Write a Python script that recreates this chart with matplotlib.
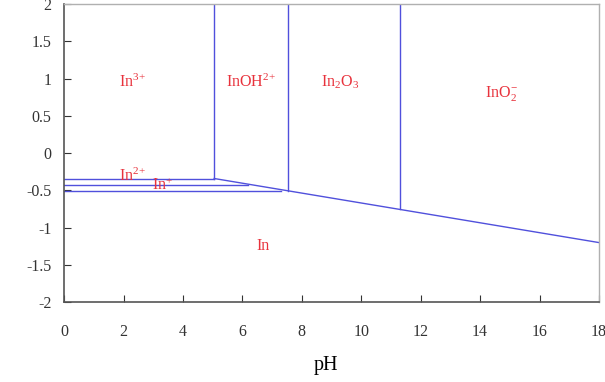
import matplotlib
matplotlib.use('Agg')
import matplotlib.pyplot as plt

plt.rcParams['font.family'] = ['Liberation Serif', 'DejaVu Serif']
plt.rcParams['mathtext.fontset'] = 'custom'
plt.rcParams['mathtext.rm'] = 'Liberation Serif'
plt.rcParams['mathtext.default'] = 'rm'
plt.rcParams['axes.unicode_minus'] = False

# boundary lines of the Pourbaix diagram (pH, E)
b_in3_in2_ph = [0, 5.05]
b_in3_in2_e = [-0.34, -0.34]
b_in2_in1_ph = [0, 6.2]
b_in2_in1_e = [-0.425, -0.425]
b_in1_in_ph = [0, 7.3]
b_in1_in_e = [-0.505, -0.505]
b_metal_ph = [5.05, 18]
b_metal_e = [-0.34, -1.2]
b_in3_inoh_ph = [5.05, 5.05]
b_in3_inoh_e = [-0.34, 2]
b_inoh_in2o3_ph = [7.55, 7.55]
b_inoh_in2o3_e = [-0.505, 2]
b_in2o3_ino2_ph = [11.3, 11.3]
b_in2o3_ino2_e = [-0.755, 2]

labels = [r'In$^{3{+}}$', r'InOH$^{2{+}}$', r'In$_2$O$_3$', r'InO$_2^{{-}}$',
          r'In$^{2{+}}$', r'In$^{{+}}$', 'In']
label_ph = [2.3, 6.3, 9.3, 14.7, 2.3, 3.3, 6.7]
label_e = [0.95, 0.95, 0.95, 0.8, -0.31, -0.44, -1.25]

xticks = [0, 2, 4, 6, 8, 10, 12, 14, 16, 18]
yticks = [-2, -1.5, -1, -0.5, 0, 0.5, 1, 1.5, 2]
ytick_labels = ['-2', '-1.5', '-1', '-0.5', '0', '0.5', '1', '1.5', '2']

fig = plt.figure(figsize=(6.05, 3.82), dpi=100)
ax = fig.add_axes([0.106, 0.209, 0.884, 0.78])

line_c = '#5050dc'
for xs, ys in [(b_in3_in2_ph, b_in3_in2_e), (b_in2_in1_ph, b_in2_in1_e),
               (b_in1_in_ph, b_in1_in_e), (b_metal_ph, b_metal_e),
               (b_in3_inoh_ph, b_in3_inoh_e), (b_inoh_in2o3_ph, b_inoh_in2o3_e),
               (b_in2o3_ino2_ph, b_in2o3_ino2_e)]:
    ax.plot(xs, ys, color=line_c, lw=1.0)

for t, x, y in zip(labels, label_ph, label_e):
    ax.text(x, y, t, color='#e8323c', fontsize=11.5, ha='center', va='center')

ax.set_xlim(0, 18)
ax.set_ylim(-2, 2)
ax.set_xticks(xticks)
ax.set_yticks(yticks)
ax.set_yticklabels(ytick_labels)
ax.tick_params(direction='in', labelsize=11.5, colors='#333333', length=5)
ax.tick_params(axis='x', pad=16)
ax.tick_params(axis='y', pad=9)
ax.set_xlabel('pH', fontsize=14.5)
ax.xaxis.set_label_coords(0.49, -0.18)

for s in ['left', 'bottom']:
    ax.spines[s].set_color('#555555')
    ax.spines[s].set_linewidth(1.2)
for s in ['top', 'right']:
    ax.spines[s].set_color('#b0b0b0')
    ax.spines[s].set_linewidth(1.0)

fig.savefig('out.png', dpi=100)
